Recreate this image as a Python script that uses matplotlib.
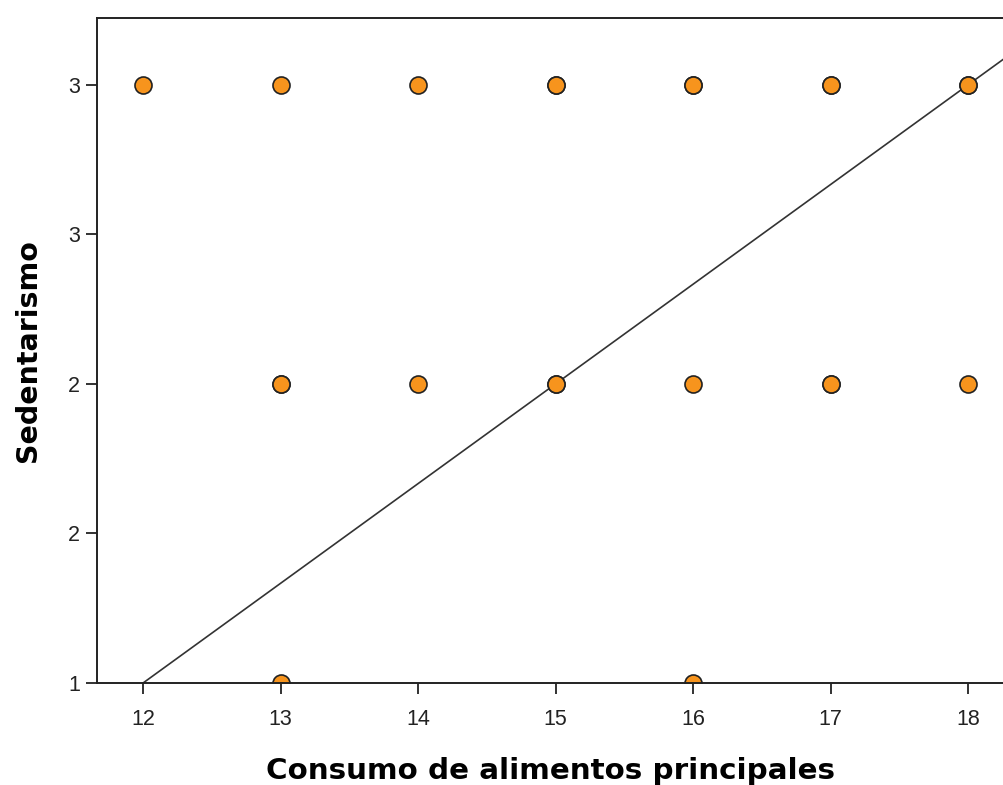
import matplotlib.pyplot as plt
import numpy as np

# consumo de alimentos (x) vs sedentarismo (y); repeated pairs = overlapping points
consumo = [12, 13, 14, 15, 15, 16, 16, 17, 17, 18, 18,
           13, 13, 14, 15, 15, 16, 17, 17, 18,
           13, 16]
sedentarismo = [3, 3, 3, 3, 3, 3, 3, 3, 3, 3, 3,
                2, 2, 2, 2, 2, 2, 2, 2, 2,
                1, 1]

# fit line
fit_x = [12, 18.4]
fit_slope = 1 / 3
fit_intercept = 1 - 12 * fit_slope

xticks = [12, 13, 14, 15, 16, 17, 18]
yticks = [1, 1.5, 2, 2.5, 3]
ytick_labels = ['1', '2', '2', '3', '3']

plt.rcParams['font.family'] = ['Liberation Sans', 'DejaVu Sans']

fig = plt.figure(figsize=(10.04, 7.85), dpi=100)
ax = fig.add_axes([97 / 1004, 102 / 785, 1 - 97 / 1004, (683 - 18) / 785])

fx = np.array(fit_x)
ax.plot(fx, fit_intercept + fit_slope * fx, color='#333333', lw=1.2, zorder=1)
ax.scatter(consumo, sedentarismo, s=150, color='#F7941D', edgecolor='#222222',
           linewidth=1.2, zorder=2)

ax.set_xlim(11.665, 18.26)
ax.set_ylim(1, 3.223)
ax.set_xticks(xticks)
ax.set_yticks(yticks)
ax.set_yticklabels(ytick_labels)
ax.tick_params(axis='both', labelsize=15.5, length=8, width=1.3, color='#222222',
               labelcolor='#222222', pad=4)
ax.tick_params(axis='x', pad=11)
for side in ['left', 'bottom', 'top']:
    ax.spines[side].set_linewidth(1.4)
    ax.spines[side].set_color('#222222')
ax.spines['right'].set_visible(False)

ax.set_xlabel('Consumo de alimentos principales', fontsize=21.2, fontweight='bold',
              family='DejaVu Sans', labelpad=19)
ax.set_ylabel('Sedentarismo', fontsize=20.5, fontweight='bold',
              family='DejaVu Sans', labelpad=19)

plt.savefig('out.png')
